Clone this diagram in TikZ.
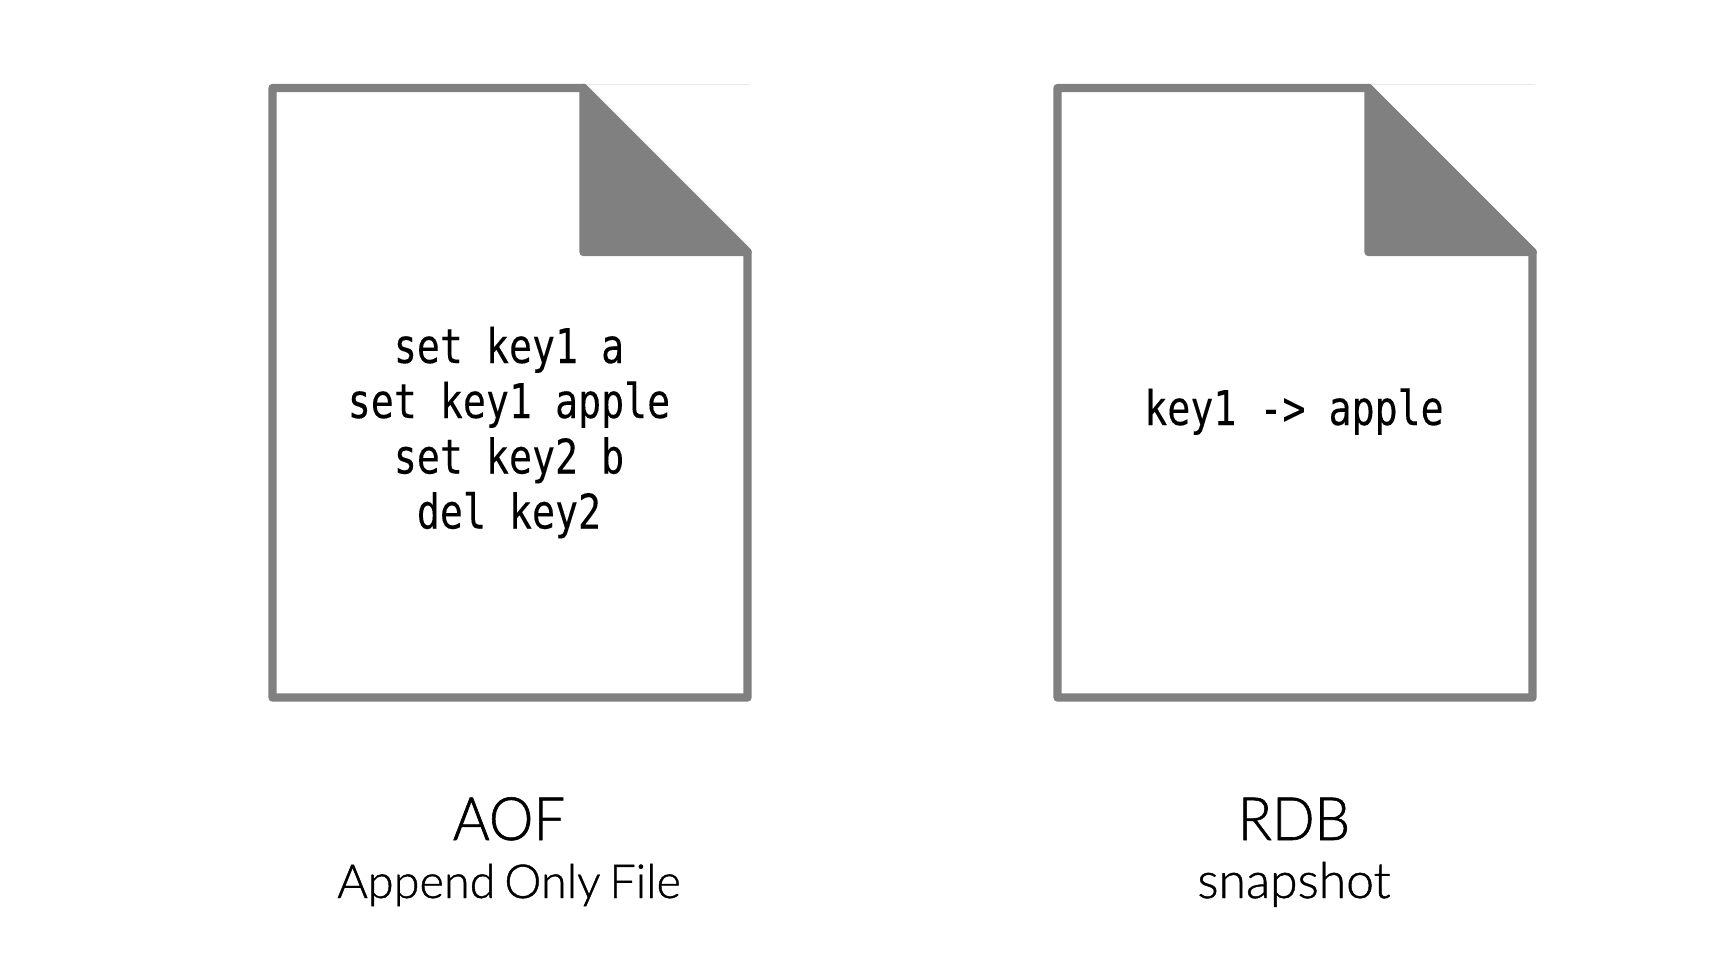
\documentclass[tikz,border=0pt]{standalone}
\usepackage{fontspec}
\setmainfont{Lato Light}
\newfontfamily\codefont[FakeStretch=0.8,FakeBold=0.15]{DejaVu Sans Mono}
\newfontfamily\titlefont[FakeStretch=0.94,FakeBold=1.0]{Lato Light}
\newfontfamily\subfont[WordSpace=0.7,FakeBold=0.9]{Lato Light}
\definecolor{docgray}{HTML}{808080}
\definecolor{hair}{HTML}{E8E8E8}
\tikzset{
  x=1bp,y=-1bp,
  docline/.style={draw=docgray,line width=8.4bp,line join=round,fill=white},
  foldfill/.style={draw=docgray,line width=8.4bp,line join=round,fill=docgray},
  hairline/.style={draw=hair,line width=0.9bp},
  code/.style={anchor=base,inner sep=0pt,font=\codefont\fontsize{48}{48}\selectfont,text=black},
  title/.style={anchor=base,inner sep=0pt,font=\titlefont\fontsize{60}{60}\selectfont,text=black},
  subtitle/.style={anchor=base,inner sep=0pt,font=\subfont\fontsize{47}{47}\selectfont,text=black},
  subtitlelarge/.style={anchor=base,inner sep=0pt,font=\subfont\fontsize{50}{50}\selectfont,text=black}
}
\newcommand{\docshape}[1]{%
  \begin{scope}[xshift=#1bp]
    \draw[hairline] (585,84) -- (750,84);
    \draw[docline] (272.5,88) -- (583.5,88) -- (747.5,252) -- (747.5,697.5) -- (272.5,697.5) -- cycle;
    \draw[foldfill] (583.5,88) -- (747.5,252) -- (583.5,252) -- cycle;
  \end{scope}}
\begin{document}
\begin{tikzpicture}
\useasboundingbox (0,0) rectangle (1710,970);
\fill[white] (0,0) rectangle (1710,970);
\docshape{0}
\docshape{785}
\node[code] (a1) at (509,363) {set key1 a};
\node[code] (a2) at (509,418) {set key1 apple};
\node[code] (a3) at (509,473.5) {set key2 b};
\node[code] (a4) at (509,528.5) {del key2};
\node[code] (r1) at (1294,425) {key1 -> apple};
\node[title] (aof) at (509,840) {AOF};
\node[subtitle] (aofs) at (509,898) {Append Only File};
\node[title] (rdb) at (1294,840) {RDB};
\node[subtitlelarge] (rdbs) at (1294,898) {snapshot};
\end{tikzpicture}
\end{document}
